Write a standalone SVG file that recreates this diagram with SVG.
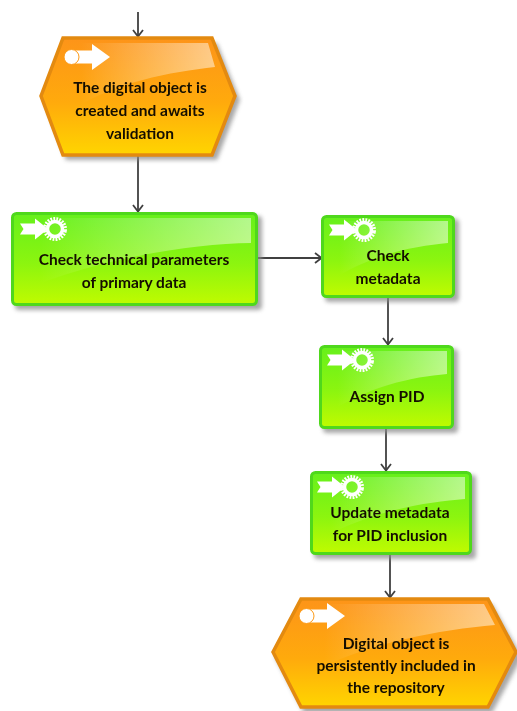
<svg xmlns="http://www.w3.org/2000/svg" xmlns:xlink="http://www.w3.org/1999/xlink" width="517" height="711" viewBox="0 0 517 711">
<defs>
<linearGradient id="gGreen" x1="0" y1="0" x2="0" y2="1"><stop offset="0" stop-color="#66f01c"/><stop offset="0.55" stop-color="#8cf50f"/><stop offset="1" stop-color="#c0fb00"/></linearGradient>
<linearGradient id="gOrange" x1="0" y1="0" x2="0" y2="1"><stop offset="0" stop-color="#fd9419"/><stop offset="0.55" stop-color="#ffaa0c"/><stop offset="1" stop-color="#ffd500"/></linearGradient>
<linearGradient id="gloss" x1="0" y1="0.5" x2="1" y2="0.5"><stop offset="0.1" stop-color="#fff" stop-opacity="0"/><stop offset="1" stop-color="#fff" stop-opacity="0.5"/></linearGradient>
<filter id="sh" x="-10%" y="-10%" width="125%" height="125%"><feGaussianBlur stdDeviation="2"/></filter>
<filter id="soft" x="-5%" y="-20%" width="110%" height="140%"><feGaussianBlur stdDeviation="0.35"/></filter>
<g id="evIcon">
<path d="M6 -6.5H27V-13L45 0L27 13V6.5H6Z" fill="#fff"/>
<circle cx="6.500" cy="0" r="7.500" fill="#fff" stroke="#fd9a17" stroke-width="1"/>
</g>
<g id="fnIcon">
<path d="M0 -5.500H15V-10.500L28 0L15 10.500V5.500H0L3.500 0Z" fill="#fff"/>
<circle cx="35" cy="0" r="10" fill="none" stroke="#fff" stroke-width="4" stroke-dasharray="1.700 1.200" transform="rotate(10 35 0)"/>
<circle cx="35" cy="0" r="7.500" fill="none" stroke="#fff" stroke-width="3.500"/>
</g>
<marker id="arr" viewBox="0 0 12 12" refX="11" refY="6" markerWidth="12" markerHeight="12" markerUnits="userSpaceOnUse" orient="auto"><path d="M4 1L10.500 6L4 11" fill="none" stroke="#404040" stroke-width="1.800"/></marker>
</defs>
<style>
.c{fill:none;stroke:#404040;stroke-width:1.800;marker-end:url(#arr)}
.sd{fill:#8a8a8a;opacity:.75;filter:url(#sh)}
.f{fill:url(#gGreen);stroke:#4fd81c;stroke-width:3}
.e{fill:url(#gOrange);stroke:#e38a10;stroke-width:3.500}
.g{fill:url(#gloss)}
.t{font-family:Lato,"Open Sans","Liberation Sans",sans-serif;font-weight:700;font-size:15.500px;fill:#141000;text-anchor:middle;filter:url(#soft)}
</style>
<rect width="517" height="711" fill="#fff"/>
<g id="connectors">
<path class="c" d="M138 12V37"/>
<path class="c" d="M138 156V212"/>
<path class="c" d="M258 258H322"/>
<path class="c" d="M388 298V345"/>
<path class="c" d="M386 429V471"/>
<path class="c" d="M390 555V598"/>
</g>
<g id="ev1">
<path class="sd" d="M66 43H217L240 100L217 160H66L44 100Z"/>
<path class="e" d="M63 38H212L235 96L212 155H63L41 96Z"/>
<path class="g" d="M67 43H208L215 67C170 72 115 82 72 110L66 43Z"/>
<use xlink:href="#evIcon" x="65" y="57"/>
<text class="t" x="140" y="93">The digital object is</text>
<text class="t" x="140" y="116">created and awaits</text>
<text class="t" x="140" y="139">validation</text>
</g>
<g id="fn1">
<rect class="sd" x="15" y="216" width="247" height="94" rx="4"/>
<rect class="f" x="12.500" y="213.500" width="244" height="91" rx="4"/>
<path class="g" d="M17 218H251V243C190 244 100 258 17 292Z"/>
<use xlink:href="#fnIcon" x="20" y="229"/>
<text class="t" x="134" y="265">Check technical parameters</text>
<text class="t" x="134" y="288">of primary data</text>
</g>
<g id="fn2">
<rect class="sd" x="325" y="219" width="134" height="83" rx="4"/>
<rect class="f" x="322.500" y="216.500" width="131" height="80" rx="4"/>
<path class="g" d="M327 221H448V243C415 246 370 254 327 283Z"/>
<use xlink:href="#fnIcon" x="329" y="230"/>
<text class="t" x="388" y="261">Check</text>
<text class="t" x="388" y="284">metadata</text>
</g>
<g id="fn3">
<rect class="sd" x="323" y="349" width="135" height="84" rx="4"/>
<rect class="f" x="320.500" y="346.500" width="132" height="81" rx="4"/>
<path class="g" d="M325 351H447V374C412 377 368 386 325 415Z"/>
<use xlink:href="#fnIcon" x="327" y="360"/>
<text class="t" x="387" y="402">Assign PID</text>
</g>
<g id="fn4">
<rect class="sd" x="314" y="475" width="162" height="84" rx="4"/>
<rect class="f" x="311.500" y="472.500" width="159" height="81" rx="4"/>
<path class="g" d="M316 477H465V499C425 502 370 511 316 541Z"/>
<use xlink:href="#fnIcon" x="317" y="487"/>
<text class="t" x="390" y="518">Update metadata</text>
<text class="t" x="390" y="541">for PID inclusion</text>
</g>
<g id="ev2">
<path class="sd" d="M304 604H492L522 657L492 713H304L275 657Z"/>
<path class="e" d="M301 599H488L516 652L488 707H301L273 652Z"/>
<path class="g" d="M305 604H484L495 625C440 630 370 642 312 672L305 604Z"/>
<use xlink:href="#evIcon" x="300" y="616"/>
<text class="t" x="396" y="649">Digital object is</text>
<text class="t" x="396" y="671">persistently included in</text>
<text class="t" x="396" y="693">the repository</text>
</g>
</svg>
